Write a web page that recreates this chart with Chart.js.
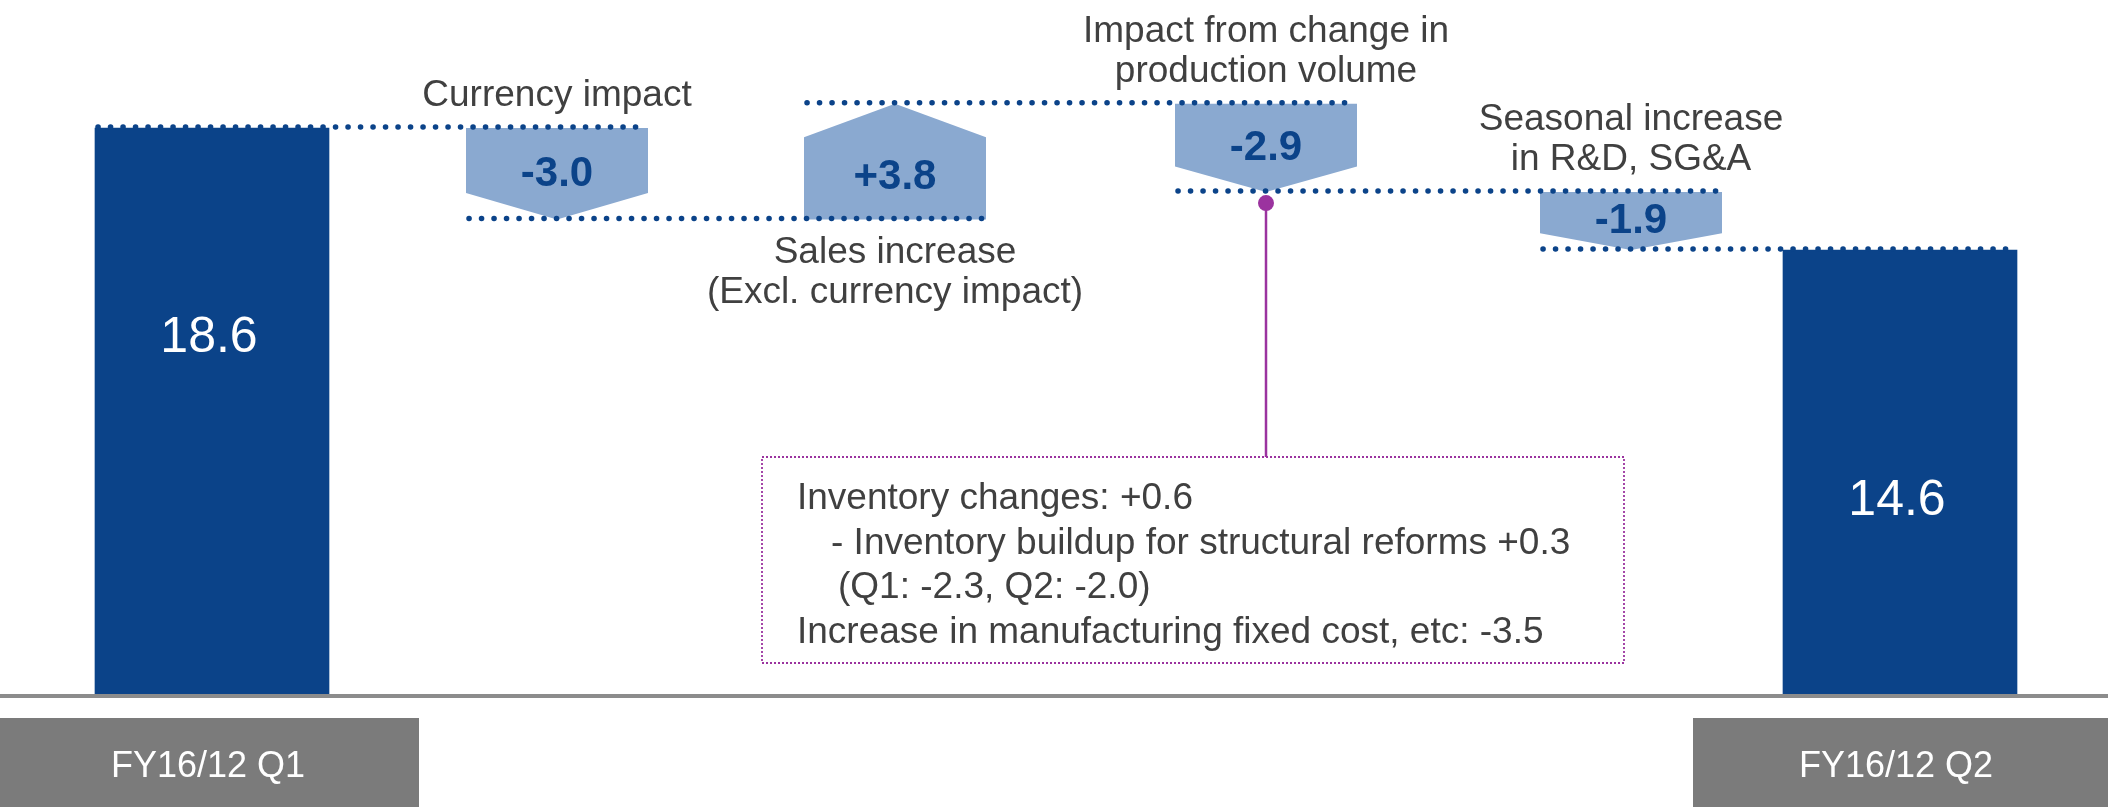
<!DOCTYPE html>
<html>
<head>
<meta charset="utf-8">
<script src="https://cdn.jsdelivr.net/npm/chart.js@4.4.1/dist/chart.umd.min.js"></script>
<style>
  html, body { margin: 0; padding: 0; background: #fff; overflow: hidden; }
  #chart { display: block; }
</style>
</head>
<body>
<canvas id="chart" width="2108" height="807"></canvas>
<script>
// waterfall: first and last are totals, the rest are steps
const labels = [
  'FY16/12 Q1',
  'Currency impact',
  'Sales increase\n(Excl. currency impact)',
  'Impact from change in\nproduction volume',
  'Seasonal increase\nin R&D, SG&A',
  'FY16/12 Q2'
];
const values = [18.6, -3.0, 3.8, -2.9, -1.9, 14.6];
const valueLabels = ['18.6', '-3.0', '+3.8', '-2.9', '-1.9', '14.6'];
// horizontal slot of each item on the x axis
const slots = [2.12, 5.57, 8.95, 12.66, 16.31, 19.0];
const noteLines = [
  'Inventory changes: +0.6',
  '- Inventory buildup for structural reforms +0.3',
  '(Q1: -2.3, Q2: -2.0)',
  'Increase in manufacturing fixed cost, etc: -3.5'
];

const DARK = '#0b4389';
const LIGHT = '#8aa9d0';
const TEXT = '#404040';
const PURPLE = '#9b339f';
const GRAY = '#7b7b7b';
const FONT = '"Liberation Sans", Arial, sans-serif';

// build the floating steps from the values
const levels = []; // [start, end] for every item
let run = 0;
values.forEach((v, i) => {
  if (i === 0 || i === values.length - 1) {
    levels.push([0, v]);
    run = v;
  } else {
    levels.push([run, run + v]);
    run = run + v;
  }
});
const totalData = [
  { x: slots[0], y: values[0] },
  { x: slots[5], y: values[5] }
];
const stepData = [1, 2, 3, 4].map(i => ({ x: slots[i], y: levels[i] }));

const waterfallDecor = {
  id: 'waterfallDecor',
  afterDatasetsDraw(chart) {
    const ctx = chart.ctx;
    const ys = chart.scales.y;
    const totals = chart.getDatasetMeta(0).data;
    const steps = chart.getDatasetMeta(1).data;
    const els = [totals[0], ...steps, totals[1]];
    const box = els.map(el => ({ l: el.x - el.width / 2, r: el.x + el.width / 2, cx: el.x }));

    ctx.save();

    // step arrows
    for (let i = 1; i <= 4; i++) {
      const [s, e] = levels[i];
      const top = ys.getPixelForValue(Math.max(s, e));
      const bot = ys.getPixelForValue(Math.min(s, e));
      const h = bot - top;
      const tri = h * 0.29;
      const { l, r, cx } = box[i];
      const down = values[i] < 0;
      ctx.beginPath();
      if (down) {
        ctx.moveTo(l, top); ctx.lineTo(r, top); ctx.lineTo(r, bot - tri);
        ctx.lineTo(cx, bot); ctx.lineTo(l, bot - tri);
      } else {
        ctx.moveTo(l, bot); ctx.lineTo(r, bot); ctx.lineTo(r, top + tri);
        ctx.lineTo(cx, top); ctx.lineTo(l, top + tri);
      }
      ctx.closePath();
      ctx.fillStyle = LIGHT;
      ctx.fill();

      // value inside arrow
      const cy = down ? (top + bot) / 2 - 3 : (top + tri + bot) / 2 - 4;
      ctx.fillStyle = DARK;
      ctx.font = 'bold 42px ' + FONT;
      ctx.textAlign = 'center';
      ctx.textBaseline = 'alphabetic';
      ctx.fillText(valueLabels[i], cx, cy + 15);

      // category label
      const lines = labels[i].split('\n');
      ctx.fillStyle = TEXT;
      ctx.font = '37px ' + FONT;
      if (down) {
        lines.forEach((t, k) => {
          ctx.fillText(t, cx, top - 22 - (lines.length - 1 - k) * 40);
        });
      } else {
        lines.forEach((t, k) => {
          ctx.fillText(t, cx, bot + 44 + k * 40);
        });
      }
    }

    // dotted connectors
    ctx.strokeStyle = DARK;
    ctx.lineWidth = 5.5;
    ctx.lineCap = 'round';
    ctx.setLineDash([0.1, 12.4]);
    for (let i = 0; i < 5; i++) {
      const yy = ys.getPixelForValue(levels[i][1]) - 1;
      ctx.beginPath();
      ctx.moveTo(box[i].l + 3, yy);
      ctx.lineTo(box[i + 1].r - 3, yy);
      ctx.stroke();
    }
    ctx.setLineDash([]);

    // values inside total bars
    const inner = [[0, 0.605], [5, 0.405]];
    ctx.fillStyle = '#ffffff';
    ctx.font = '50px ' + FONT;
    ctx.textAlign = 'center';
    inner.forEach(([i, f]) => {
      ctx.fillText(valueLabels[i], box[i].cx - 3, ys.getPixelForValue(values[i] * f));
    });

    // callout for production volume
    const px = box[3].cx;
    const dotY = ys.getPixelForValue(levels[3][1]) + 11;
    const nb = { l: px - 504, r: px + 358, t: 457, b: 663 };
    ctx.strokeStyle = PURPLE;
    ctx.lineWidth = 2.5;
    ctx.lineCap = 'butt';
    ctx.beginPath();
    ctx.moveTo(px, dotY);
    ctx.lineTo(px, nb.t);
    ctx.stroke();
    ctx.fillStyle = PURPLE;
    ctx.beginPath();
    ctx.arc(px, dotY, 8, 0, Math.PI * 2);
    ctx.fill();
    ctx.lineWidth = 1.8;
    ctx.setLineDash([2, 2]);
    ctx.strokeRect(nb.l, nb.t, nb.r - nb.l, nb.b - nb.t);
    ctx.setLineDash([]);
    ctx.fillStyle = TEXT;
    ctx.font = '37px ' + FONT;
    ctx.textAlign = 'left';
    const indents = [35, 69, 76, 35];
    noteLines.forEach((t, k) => {
      ctx.fillText(t, nb.l + indents[k], 509 + k * 44.5);
    });

    // axis line
    const base = chart.chartArea.bottom + 1;
    ctx.strokeStyle = '#8c8c8c';
    ctx.lineWidth = 4;
    ctx.beginPath();
    ctx.moveTo(0, base);
    ctx.lineTo(chart.width, base);
    ctx.stroke();

    // category boxes for the totals
    [0, 5].forEach(i => {
      let l = box[i].cx - 207;
      let r = box[i].cx + 207;
      if (l < 12) l = 0;
      if (r > chart.width - 12) r = chart.width;
      ctx.fillStyle = GRAY;
      ctx.fillRect(l, 718, r - l, chart.height - 718);
      ctx.fillStyle = '#ffffff';
      ctx.font = '36px ' + FONT;
      ctx.textAlign = 'center';
      ctx.fillText(labels[i], box[i].cx - 4, 777);
    });

    ctx.restore();
  }
};

new Chart(document.getElementById('chart'), {
  type: 'bar',
  data: {
    datasets: [
      {
        label: 'Totals',
        data: totalData,
        backgroundColor: DARK,
        borderWidth: 0,
        barThickness: 234,
        grouped: false
      },
      {
        label: 'Changes',
        data: stepData,
        backgroundColor: 'rgba(0,0,0,0)',
        borderWidth: 0,
        barThickness: 182,
        grouped: false
      }
    ]
  },
  options: {
    responsive: false,
    animation: false,
    devicePixelRatio: 1,
    layout: { padding: { left: 0, right: 0, top: 0, bottom: 112 } },
    scales: {
      x: { type: 'linear', min: 0, max: 21.08, offset: false, display: false },
      y: { min: 0, max: 22.8, display: false }
    },
    plugins: {
      legend: { display: false },
      tooltip: { enabled: false }
    }
  },
  plugins: [waterfallDecor]
});
</script>
</body>
</html>
